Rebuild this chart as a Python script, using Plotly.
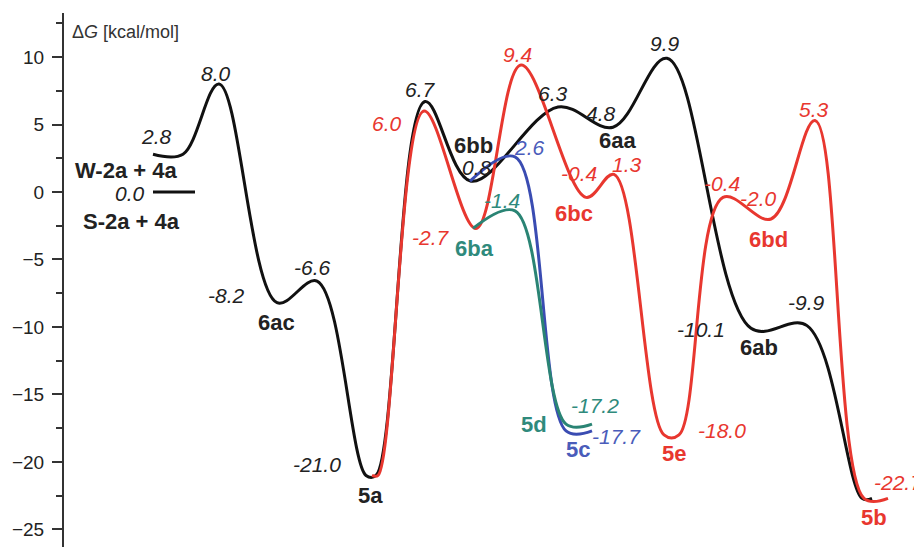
import plotly.graph_objects as go

# ---------------- data ----------------
# Stationary points of each pathway: reaction coordinate (x) and free energy (kcal/mol)
black_x = [153, 183, 219, 277, 317, 366, 376, 425, 471, 558, 613, 667, 751, 807, 862, 872]
black_E = [2.8, 2.8, 8.0, -8.2, -6.6, -21.0, -21.0, 6.7, 0.8, 6.3, 4.8, 9.9, -10.1, -9.9, -22.7, -22.7]

red_x = [372, 378, 424, 476, 521, 586, 614, 664, 679, 723, 771, 815, 864, 888]
red_E = [-21.0, -21.0, 6.0, -2.7, 9.4, -0.4, 1.3, -18.0, -18.0, -0.4, -2.0, 5.3, -22.7, -22.7]

blue_x = [470, 515, 566, 592]
blue_E = [0.8, 2.6, -17.7, -17.7]

green_x = [473, 515, 566, 592]
green_E = [-2.7, -1.4, -17.2, -17.2]

s_level_x = [153, 195]
s_level_E = [0.0, 0.0]

yticks = [10, 5, 0, -5, -10, -15, -20, -25]

# labels: (text, x, y-energy, colour key)
num_labels = [
    ("2.8", 156, 4.1, "k"), ("0.0", 147, -0.1, "k"), ("8.0", 216, 8.8, "k"),
    ("-8.2", 226, -7.7, "k"), ("-6.6", 312, -5.6, "k"), ("-21.0", 317, -20.2, "k"),
    ("6.7", 420, 7.6, "k"), ("6.0", 387, 5.1, "r"), ("0.8", 477, 1.85, "k"),
    ("2.6", 529, 3.3, "b"), ("-1.4", 502, -0.6, "g"), ("-2.7", 431, -3.4, "r"),
    ("9.4", 517, 10.2, "r"), ("6.3", 553, 7.3, "k"), ("-0.4", 579, 1.4, "r"),
    ("4.8", 601, 5.85, "k"), ("1.3", 627, 2.05, "r"), ("9.9", 665, 11.0, "k"),
    ("5.3", 814, 6.1, "r"), ("-0.4", 722, 0.65, "r"), ("-2.0", 758, -0.5, "r"),
    ("-10.1", 701, -10.15, "k"), ("-9.9", 806, -8.15, "k"), ("-22.7", 898, -21.5, "r"),
    ("-18.0", 722, -17.65, "r"), ("-17.7", 616, -18.1, "b"), ("-17.2", 595, -15.8, "g"),
]
name_labels = [
    ("W-2a + 4a", 126, 1.6, "k"), ("S-2a + 4a", 131, -2.15, "k"), ("6ac", 276, -9.7, "k"),
    ("5a", 370, -22.45, "k"), ("6bb", 473, 3.45, "k"), ("6ba", 474, -4.2, "g"),
    ("6bc", 574, -1.6, "r"), ("6aa", 617, 3.8, "k"), ("6bd", 768, -3.5, "r"),
    ("6ab", 759, -11.5, "k"), ("5b", 874, -24.1, "r"), ("5e", 674, -19.35, "r"),
    ("5d", 534, -17.25, "g"), ("5c", 578, -19.1, "b"),
]

# ---------------- style ----------------
colors = {"k": "#111111", "r": "#e8372f", "b": "#3a4cb2", "g": "#2a8474"}
text_colors = {"k": "#222222", "r": "#e8372f", "b": "#4a5cba", "g": "#2f8a7c"}
FONT = "Liberation Sans, Arial, sans-serif"

fig = go.Figure()
for key, xs, ys in [("k", black_x, black_E), ("r", red_x, red_E),
                    ("b", blue_x, blue_E), ("g", green_x, green_E)]:
    fig.add_trace(go.Scatter(x=xs, y=ys, mode="lines",
                             line=dict(color=colors[key], width=3, shape="spline", smoothing=1.0),
                             hoverinfo="skip", showlegend=False))

fig.add_trace(go.Scatter(x=s_level_x, y=s_level_E, mode="lines",
                         line=dict(color=colors["k"], width=3), showlegend=False, hoverinfo="skip"))

ann = []
for t, x, y, c in num_labels:
    ann.append(dict(x=x, y=y, text="<i>" + t + "</i>", showarrow=False,
                    font=dict(family=FONT, size=21, color=text_colors[c]),
                    xanchor="right" if t == "0.0" else "center", yanchor="middle"))
for t, x, y, c in name_labels:
    ann.append(dict(x=x, y=y, text="<b>" + t + "</b>", showarrow=False,
                    font=dict(family=FONT, size=22, color=text_colors[c]),
                    xanchor="center", yanchor="middle"))
ann.append(dict(x=70, y=11.85, text="\u0394<i>G</i> [kcal/mol]", showarrow=False,
                font=dict(family=FONT, size=18, color="#333333"),
                xanchor="left", yanchor="middle"))

# page body has an 8px default margin, so the figure is shifted by 8px
fig.update_layout(
    width=914, height=539,
    margin=dict(l=56, r=0, t=5, b=0, autoexpand=False),
    paper_bgcolor="white", plot_bgcolor="white",
    annotations=ann,
    xaxis=dict(range=[64, 922], visible=False, fixedrange=True, automargin=False),
    yaxis=dict(range=[-26.3, 13.26], showgrid=False, zeroline=False, automargin=False,
               showline=True, linecolor="#333333", linewidth=2,
               ticks="outside", ticklen=10, tickwidth=2, tickcolor="#333333",
               tickvals=yticks, ticktext=[str(v).replace("-", "\u2212") for v in yticks],
               tickfont=dict(family=FONT, size=19, color="#222222"),
               minor=dict(ticks="outside", ticklen=6, tickwidth=2, tickcolor="#333333", dtick=2.5, tick0=0),
               ticklabelstandoff=4),
)

fig.write_html("out.html")
